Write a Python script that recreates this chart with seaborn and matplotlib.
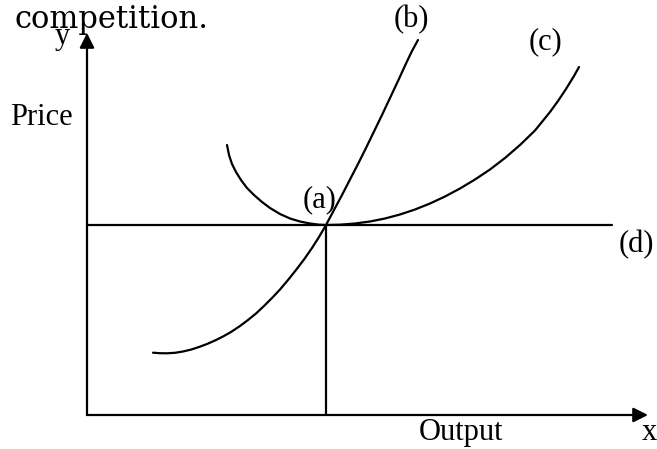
import matplotlib
matplotlib.use("Agg")
import matplotlib.pyplot as plt
import seaborn as sns
import pandas as pd

# curve (b): marginal cost (output, price)
mc_output = [6.6, 7.3, 8.0, 8.8, 9.6, 10.4, 11.2, 12.0, 12.8, 13.6, 14.4,
             15.3, 16.1, 16.9, 17.7, 18.5, 19.3, 20.1, 20.9, 21.7, 22.5,
             23.2, 23.9, 24.7, 25.5, 26.3, 27.1, 27.9, 28.7, 29.5, 30.3,
             31.1, 31.9, 32.5, 33.1]
mc_price = [6.23, 6.18, 6.17, 6.22, 6.35, 6.54, 6.80, 7.10, 7.45, 7.85, 8.30,
            8.90, 9.50, 10.15, 10.90, 11.70, 12.55, 13.50, 14.50, 15.55, 16.70,
            17.80, 19.00, 20.50, 22.00, 23.55, 25.10, 26.70, 28.35, 30.00, 31.70,
            33.40, 35.15, 36.40, 37.50]

# curve (c): average cost
ac_output = [14.0, 14.2, 14.5, 14.9, 15.4, 16.0, 16.7, 17.5, 18.3, 19.3,
             20.3, 21.3, 22.3, 23.2, 23.9, 25.3, 26.8, 28.3, 29.8, 31.3,
             32.8, 34.3, 35.8, 37.3, 38.8, 40.3, 41.8, 43.3, 44.8, 46.3,
             47.1, 47.9, 48.7, 49.2]
ac_price = [27.0, 26.0, 25.1, 24.3, 23.5, 22.7, 22.0, 21.3, 20.7, 20.1,
            19.65, 19.35, 19.15, 19.03, 19.0, 19.03, 19.15, 19.35, 19.65, 20.05,
            20.55, 21.15, 21.85, 22.65, 23.55, 24.55, 25.7, 27.0, 28.45, 30.3,
            31.4, 32.6, 33.9, 34.8]

# line (d): price level, and the equilibrium output at (a)
price_level = 19.0
price_line_end = 52.5
q_star = 23.9
x_axis_end = 56.1
y_axis_end = 38.2

mc = pd.DataFrame({"output": mc_output, "price": mc_price})
ac = pd.DataFrame({"output": ac_output, "price": ac_price})

sns.set_theme(style="white")
fig = plt.figure(figsize=(6.57, 4.49), dpi=100)
ax = fig.add_axes([0, 0, 1, 1])
ax.set_xlim(-8.7, 57.0)
ax.set_ylim(-3.4, 41.5)
ax.axis("off")

lw = 1.6
sns.lineplot(data=mc, x="output", y="price", sort=False, color="black", lw=lw, ax=ax)
sns.lineplot(data=ac, x="output", y="price", sort=False, color="black", lw=lw, ax=ax)
ax.plot([0, price_line_end], [price_level, price_level], color="black", lw=lw)
ax.plot([q_star, q_star], [0, price_level], color="black", lw=lw)

# axes with arrow heads
arrow = dict(arrowstyle="-|>", color="black", lw=lw, mutation_scale=22,
             shrinkA=0, shrinkB=0)
ax.annotate("", xy=(x_axis_end, 0), xytext=(0, 0), arrowprops=arrow)
ax.annotate("", xy=(0, y_axis_end), xytext=(0, 0), arrowprops=arrow)

serif = ["Liberation Serif", "DejaVu Serif"]
fs = 22
txt = dict(family=serif, fontsize=fs, color="black", va="baseline")
ax.text(-7.2, 38.7, "competition.", family=["DejaVu Serif"], fontsize=fs,
        color="black", va="baseline")
ax.text(-2.5, 37.1, "y", ha="center", **txt)
ax.text(-7.7, 29.0, "Price", **txt)
ax.text(23.3, 20.8, "(a)", ha="center", **txt)
ax.text(32.4, 38.8, "(b)", ha="center", **txt)
ax.text(45.8, 36.6, "(c)", ha="center", **txt)
ax.text(53.2, 16.3, "(d)", **txt)
ax.text(37.4, -2.5, "Output", ha="center", **txt)
ax.text(56.2, -2.5, "x", ha="center", **txt)

fig.savefig("out.png", dpi=100)
